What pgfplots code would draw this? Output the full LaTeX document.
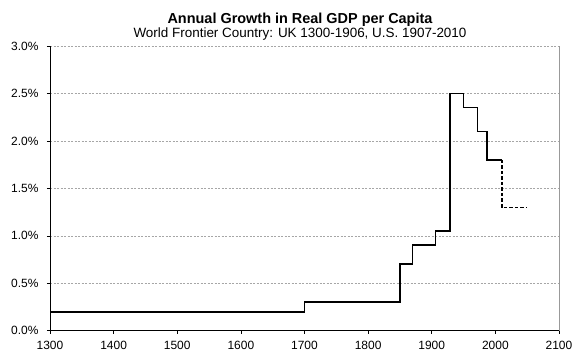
\documentclass[border=0pt]{standalone}
\usepackage{pgfplots}
\pgfplotsset{compat=1.18}
\usepackage{fontspec}
\setmainfont{Liberation Sans}
\begin{document}
\begin{tikzpicture}[x=1bp,y=1bp]
\useasboundingbox (-50bp,-32.3bp) rectangle (533bp,330.7bp);
\begin{axis}[
  at={(0,0)}, anchor=origin,
  scale only axis,
  width=509bp, height=284.7bp,
  xmin=1300, xmax=2100, ymin=0, ymax=3,
  xtick={1300,1400,...,2100},
  ytick={0,0.5,...,3},
  axis lines*=left,
  axis line style={black, line width=0.8bp},
  tick align=outside,
  major tick length=3bp,
  tick style={black, line width=0.6bp},
  ymajorgrids,
  major grid style={gray!70, dash pattern=on 2bp off 1.5bp, line width=0.5bp},
  /pgf/number format/assume math mode=true,
  xticklabel style={font=\fontsize{12}{14}\selectfont, /pgf/number format/1000 sep={}, yshift=-4bp},
  yticklabel style={font=\fontsize{12}{14}\selectfont, xshift=-5bp},
  yticklabel={\pgfmathprintnumber[fixed,fixed zerofill,precision=1]{\tick}\%},
  clip=false,
]
\addplot[const plot mark left, black, line width=1.6bp] coordinates {
  (1300,0.2) (1700,0.3) (1850,0.7) (1870,0.9) (1906,1.05) (1929,2.5)
  (1950,2.35) (1972,2.1) (1987,1.8) (2010,1.8)
};
\addplot[black, line width=1.6bp, dash pattern=on 3.5bp off 2bp] coordinates {
  (2010,1.8) (2010,1.3) (2050,1.3)
};
\draw[gray!80, line width=0.8bp] (rel axis cs:1,0) -- (rel axis cs:1,1);
\end{axis}
\node[anchor=base, font=\fontsize{14.5}{16}\selectfont\bfseries] at (250,307.7) {Annual Growth in Real GDP per Capita};
\node[anchor=base, font=\fontsize{13.5}{15}\selectfont] at (250,293.2) {World Frontier Country: UK 1300-1906, U.S. 1907-2010};
\end{tikzpicture}
\end{document}
